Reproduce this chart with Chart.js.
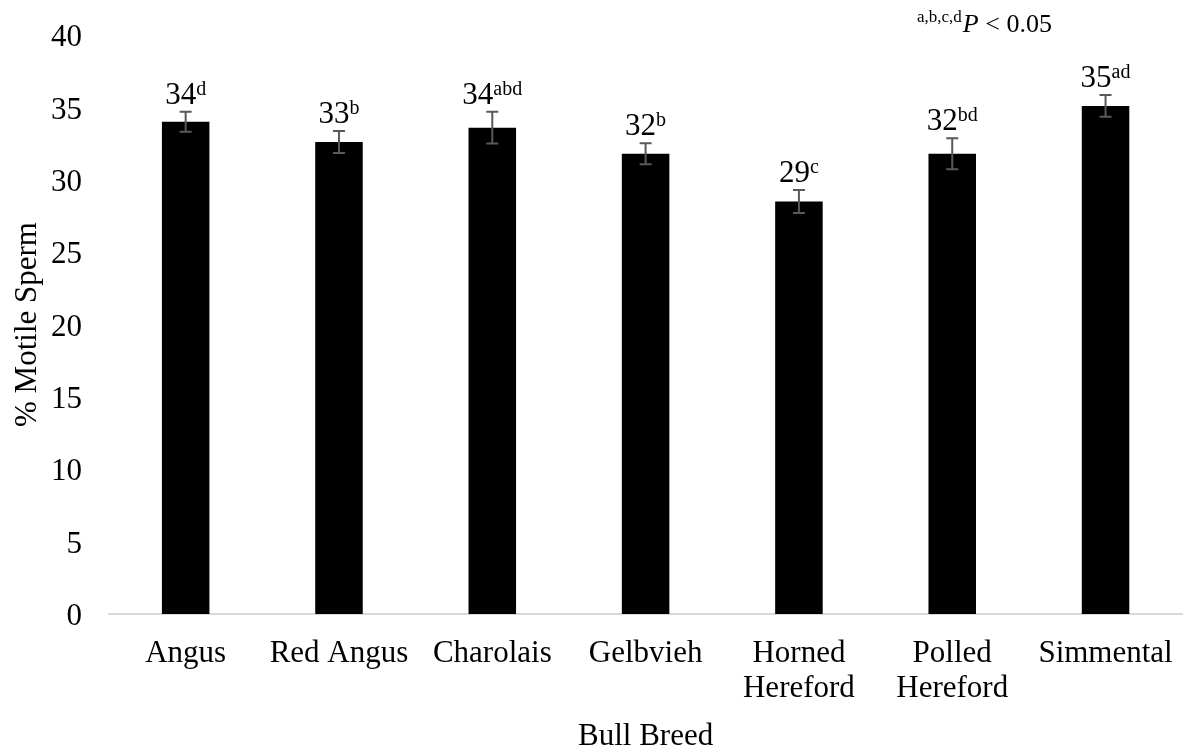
<!DOCTYPE html>
<html>
<head>
<meta charset="utf-8">
<script src="https://cdn.jsdelivr.net/npm/chart.js@4/dist/chart.umd.min.js"></script>
<style>
  html, body { margin: 0; padding: 0; background: #ffffff; }
  #wrap { width: 1195px; height: 752px; position: relative; }
</style>
</head>
<body>
<div id="wrap"><canvas id="chart"></canvas></div>
<script>
// Percentage of motile sperm by bull breed (mean ± SE)
const breeds = [
  ['Angus'], ['Red Angus'], ['Charolais'], ['Gelbvieh'],
  ['Horned', 'Hereford'], ['Polled', 'Hereford'], ['Simmental']
];
const motile = [34.0, 32.6, 33.6, 31.8, 28.5, 31.8, 35.1];
const stdErr = [0.69, 0.76, 1.1, 0.73, 0.8, 1.07, 0.75];
const letters = ['d', 'b', 'abd', 'b', 'c', 'bd', 'ad'];
const yTicks = [0, 5, 10, 15, 20, 25, 30, 35, 40];

const SERIF = "'Liberation Serif', 'Times New Roman', serif";

// Whiskers plus value labels with superscript significance letters
const annotate = {
  id: 'annotate',
  afterDatasetsDraw(chart) {
    const ctx = chart.ctx;
    const meta = chart.getDatasetMeta(0);
    const y = chart.scales.y;
    ctx.save();
    meta.data.forEach((bar, i) => {
      const x = bar.x;
      const hi = y.getPixelForValue(motile[i] + stdErr[i]);
      const lo = y.getPixelForValue(motile[i] - stdErr[i]);
      ctx.strokeStyle = '#595959';
      ctx.lineWidth = 2;
      ctx.beginPath();
      ctx.moveTo(x, hi); ctx.lineTo(x, lo);
      ctx.moveTo(x - 6, hi); ctx.lineTo(x + 6, hi);
      ctx.moveTo(x - 6, lo); ctx.lineTo(x + 6, lo);
      ctx.stroke();

      const num = String(Math.round(motile[i]));
      const sup = letters[i];
      ctx.font = '31px ' + SERIF;
      const wNum = ctx.measureText(num).width;
      ctx.font = '20px ' + SERIF;
      const wSup = ctx.measureText(sup).width;
      const left = x - (wNum + wSup) / 2;
      const base = hi - 8;
      ctx.fillStyle = '#000000';
      ctx.textBaseline = 'alphabetic';
      ctx.textAlign = 'left';
      ctx.font = '31px ' + SERIF;
      ctx.fillText(num, left, base);
      ctx.font = '20px ' + SERIF;
      ctx.fillText(sup, left + wNum, base - 9);
    });

    // significance note
    ctx.fillStyle = '#000000';
    ctx.textAlign = 'left';
    ctx.textBaseline = 'alphabetic';
    let nx = 917;
    ctx.font = '17px ' + SERIF;
    ctx.fillText('a,b,c,d', nx, 22);
    nx += ctx.measureText('a,b,c,d').width + 1;
    ctx.font = 'italic 26px ' + SERIF;
    ctx.fillText('P', nx, 32);
    nx += ctx.measureText('P').width;
    ctx.font = '26px ' + SERIF;
    ctx.fillText(' < 0.05', nx, 32);
    ctx.restore();
  }
};

new Chart(document.getElementById('chart'), {
  type: 'bar',
  data: {
    labels: breeds,
    datasets: [{
      data: motile,
      backgroundColor: '#000000',
      borderWidth: 0,
      categoryPercentage: 1.0,
      barPercentage: 0.31
    }]
  },
  options: {
    responsive: true,
    maintainAspectRatio: false,
    animation: false,
    layout: { padding: { top: 35, right: 4, left: 0, bottom: 0 } },
    plugins: {
      legend: { display: false },
      tooltip: { enabled: false }
    },
    scales: {
      x: {
        grid: { display: false, drawTicks: false, tickLength: 0 },
        border: { display: true, color: '#d9d9d9', width: 2 },
        ticks: {
          color: '#000000',
          padding: 22,
          maxRotation: 0,
          autoSkip: false,
          font: { family: SERIF, size: 31, lineHeight: 1.13 }
        },
        title: {
          display: true,
          text: 'Bull Breed',
          color: '#000000',
          font: { family: SERIF, size: 31, lineHeight: 1 },
          padding: { top: 0, bottom: 0 }
        },
        afterFit(scale) { scale.height = 138; }
      },
      y: {
        min: 0,
        max: 40,
        grid: { display: false, drawTicks: false, tickLength: 0 },
        border: { display: false },
        afterBuildTicks(scale) { scale.ticks = yTicks.map(v => ({ value: v })); },
        ticks: {
          color: '#000000',
          padding: 27,
          labelOffset: 3,
          font: { family: SERIF, size: 31, lineHeight: 0.5 }
        },
        title: {
          display: true,
          text: '% Motile Sperm',
          color: '#000000',
          font: { family: SERIF, size: 31, lineHeight: 1.2 },
          padding: { top: 9, bottom: 0 }
        },
        afterFit(scale) { scale.width = 109; }
      }
    }
  },
  plugins: [annotate]
});
</script>
</body>
</html>
